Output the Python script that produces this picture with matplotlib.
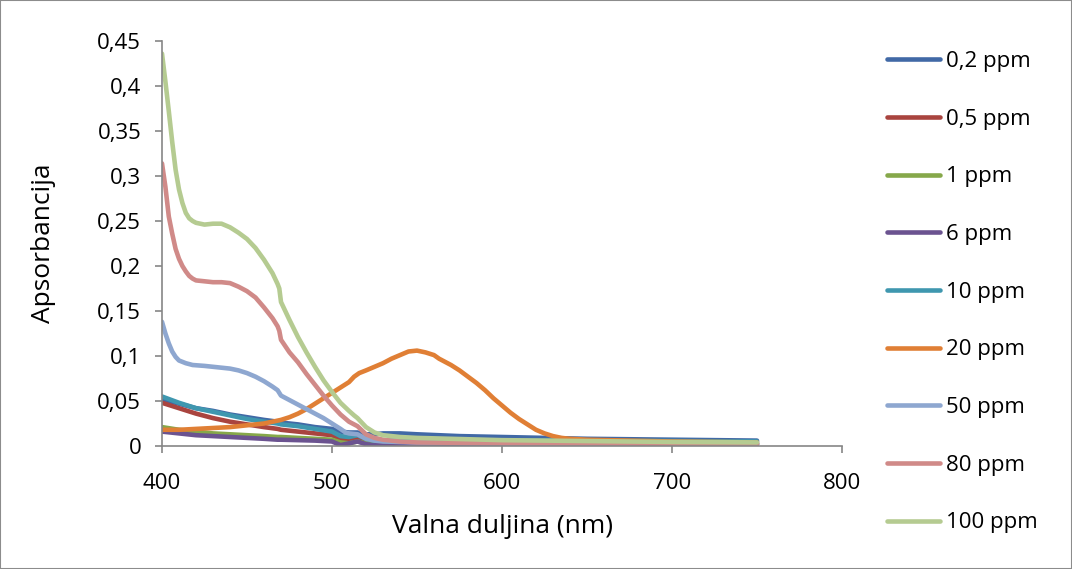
import matplotlib
matplotlib.use("Agg")
import matplotlib.pyplot as plt
from matplotlib.patches import Rectangle
from matplotlib.ticker import FuncFormatter

plt.rcParams['font.family'] = ['Open Sans', 'DejaVu Sans']

# low concentrations share one wavelength grid (nm)
wl_low = [400, 410, 420, 430, 440, 450, 460, 468, 470, 480, 490, 500, 505, 510, 515,
          520, 525, 530, 540, 550, 575, 600, 650, 700, 750]
a_02 = [.052, .047, .042, .039, .035, .032, .029, .027, .026, .024, .021, .019, .016, .015, .015,
        .013, .013, .014, .014, .013, .011, .010, .008, .007, .006]
a_05 = [.048, .042, .036, .031, .027, .024, .021, .019, .018, .016, .014, .012, .008, .007, .008,
        .005, .004, .004, .003, .003, .003, .003, .003, .003, .003]
a_1 = [.021, .018, .016, .014, .013, .012, .011, .010, .010, .009, .008, .007, .004, .003, .005,
       .003, .002, .002, .002, .002, .002, .002, .002, .002, .002]
a_6 = [.016, .014, .012, .011, .010, .009, .008, .007, .007, .0065, .006, .005, .001, .003, .005,
       .002, .001, .002, .002, .002, .002, .002, .002, .002, .002]
a_10 = [.055, .048, .042, .038, .034, .030, .027, .025, .024, .022, .019, .016, .011, .010, .012,
        .008, .006, .006, .006, .006, .006, .006, .006, .0055, .005]

wl_20 = [400, 410, 420, 430, 440, 450, 460, 465, 470, 475, 480, 485, 490, 495, 500, 505, 510,
         513, 516, 520, 525, 530, 535, 540, 545, 550, 555, 560, 563, 566, 570, 575, 580, 585,
         590, 595, 600, 605, 610, 615, 620, 625, 630, 635, 640, 650, 675, 700, 750]
a_20 = [.018, .018, .019, .020, .021, .023, .025, .027, .029, .032, .036, .041, .047, .053, .059,
        .065, .071, .077, .081, .084, .088, .092, .097, .101, .105, .106, .104, .101, .097, .094,
        .090, .084, .077, .070, .062, .053, .045, .037, .030, .024, .018, .014, .011, .009, .008,
        .007, .006, .005, .004]

wl_50 = [400, 402, 404, 406, 408, 410, 414, 418, 425, 430, 440, 445, 450, 455, 460, 465, 468,
         470, 475, 480, 485, 490, 495, 500, 505, 508, 510, 515, 520, 525, 530, 550, 600, 750]
a_50 = [.138, .125, .114, .105, .099, .095, .092, .090, .089, .088, .086, .084, .081, .077, .072,
        .066, .062, .056, .051, .046, .041, .036, .031, .025, .019, .015, .014, .013, .008, .006,
        .005, .004, .003, .002]

wl_hi = [400, 402, 404, 406, 408, 410, 412, 414, 416, 418, 420, 425, 430, 435, 440, 445, 450,
         455, 460, 465, 468, 469, 470, 475, 480, 485, 490, 495, 500, 505, 510, 513, 515, 520,
         525, 530, 540, 550, 600, 700, 750]
a_80 = [.314, .288, .255, .236, .219, .208, .200, .194, .189, .186, .184, .183, .182, .182, .181,
        .177, .172, .165, .154, .142, .133, .128, .118, .104, .093, .080, .068, .056, .045, .035,
        .027, .024, .022, .013, .009, .007, .005, .004, .003, .0025, .002]
a_100 = [.436, .405, .372, .338, .307, .285, .270, .259, .253, .250, .248, .246, .247, .247, .243,
         .237, .230, .220, .207, .192, .180, .175, .160, .140, .121, .104, .088, .073, .060, .048,
         .039, .034, .031, .021, .015, .012, .010, .009, .0065, .0045, .004]

labels = ["0,2 ppm", "0,5 ppm", "1 ppm", "6 ppm", "10 ppm", "20 ppm", "50 ppm", "80 ppm", "100 ppm"]
xs = [wl_low, wl_low, wl_low, wl_low, wl_low, wl_20, wl_50, wl_hi, wl_hi]
ys = [a_02, a_05, a_1, a_6, a_10, a_20, a_50, a_80, a_100]
colors = ["#4169A6", "#A9443F", "#86A84A", "#6B5390", "#3F97AF", "#E07F35",
          "#8EA7D0", "#D08A88", "#B5CB91"]

fig = plt.figure(figsize=(10.72, 5.69), dpi=100)
ax = fig.add_axes([162 / 1072, 1 - 446 / 569, 680 / 1072, 405 / 569])

for x, y, lab, c in zip(xs, ys, labels, colors):
    ax.plot(x, y, color=c, lw=3.3, label=lab, solid_capstyle='round', solid_joinstyle='round')

ax.set_xlim(400, 800)
ax.set_ylim(0, 0.45)
ax.set_xticks([400, 500, 600, 700, 800])
ax.set_yticks([0, .05, .1, .15, .2, .25, .3, .35, .4, .45])
ax.yaxis.set_major_formatter(FuncFormatter(lambda v, p: ('%g' % round(v, 2)).replace('.', ',')))

for s in ['top', 'right']:
    ax.spines[s].set_visible(False)
for s in ['left', 'bottom']:
    ax.spines[s].set_color('#868686')
    ax.spines[s].set_linewidth(1.2)
ax.tick_params(axis='both', colors='#868686', labelcolor='black', labelsize=16,
               length=5, width=1.2, direction='out')
ax.tick_params(axis='y', pad=10)
ax.tick_params(axis='x', pad=14.5)

ax.set_xlabel("Valna duljina (nm)", fontsize=19, labelpad=14)
ax.set_ylabel("Apsorbancija", fontsize=19, labelpad=30)

fig.legend(loc='upper left', bbox_to_anchor=(887 / 1072, 1 - 51 / 569), frameon=False,
           fontsize=16, handlelength=2.4, handletextpad=0.25, labelspacing=1.65,
           borderaxespad=0, borderpad=0)

fig.patches.append(Rectangle((0, 0), 1, 1, transform=fig.transFigure, fill=False,
                             edgecolor='#8C8C8C', lw=1.5))

fig.savefig("out.png", dpi=100)
